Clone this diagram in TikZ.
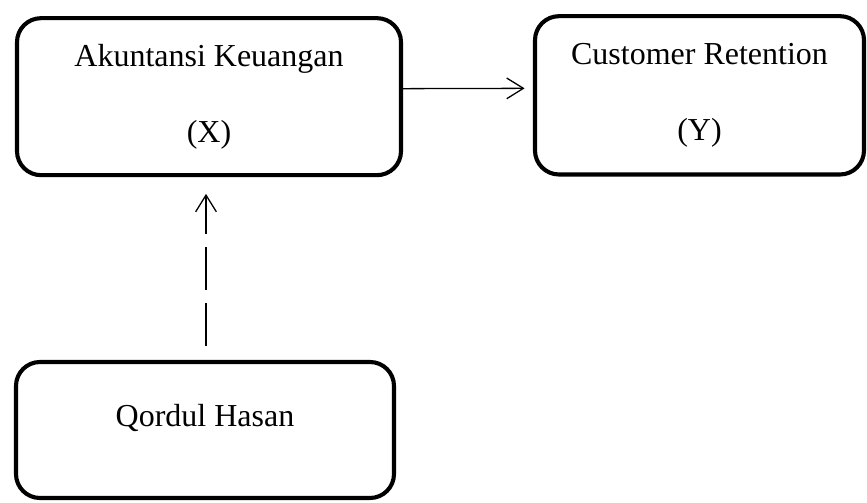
\documentclass[tikz,border=0pt]{standalone}
\usepackage{fontspec}
\setmainfont{Liberation Serif}
\usetikzlibrary{arrows.meta,positioning}

\begin{document}
\begin{tikzpicture}

   \useasboundingbox (0,0) rectangle (26.01,15.06);

   \tikzset{varbox/.style={draw, line width=3.5pt, rounded corners=0.72cm,
      align=center, inner sep=0pt,
      font=\fontsize{27.3pt}{2.28cm}\selectfont}}
   \tikzset{link/.style={line width=1.1pt,
      -{Straight Barb[length=0.5cm,width=0.62cm,line width=1.1pt]}}}

    \node[varbox, minimum width=11.52cm, minimum height=4.71cm] (ak) at (6.27,12.16) {Akuntansi Keuangan\\(X)};
    \node[varbox, minimum width=9.87cm, minimum height=4.75cm] (cr) at (20.985,12.2) {Customer Retention\\(Y)};
    \node[varbox, minimum width=11.34cm, minimum height=4.08cm, text depth=0.9cm] (qh) at (6.15,2.16) {Qordul Hasan};

    \draw[link] ([yshift=0.24cm]ak.east) -- ([xshift=-0.25cm,yshift=0.21cm]cr.west);
    \draw[link, dash pattern=on 1.3cm off 0.38cm] ([xshift=0.03cm,yshift=0.42cm]qh.north) -- ([xshift=0.03cm,yshift=-0.5cm]qh.north |- ak.south);

\end{tikzpicture}
\end{document}
